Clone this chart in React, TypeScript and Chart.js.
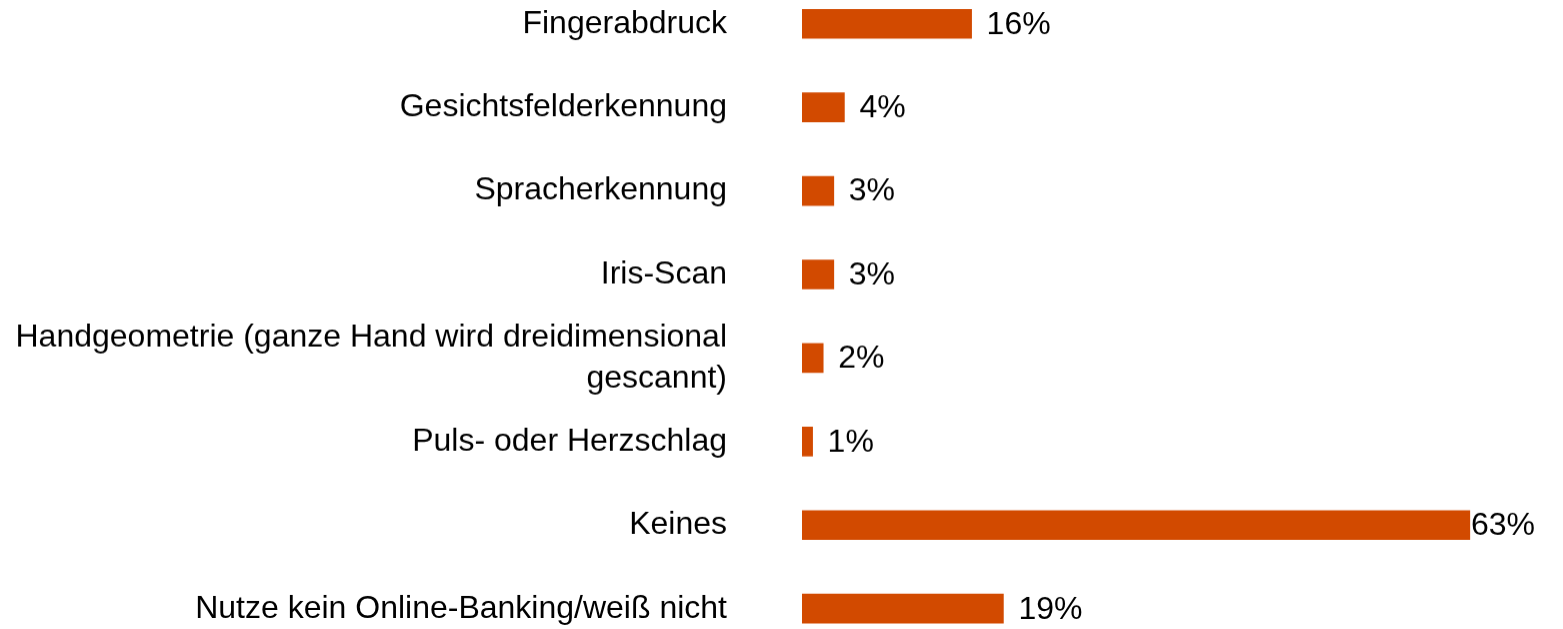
import React, { useEffect, useRef } from "react";
import { Chart, registerables } from "chart.js";

Chart.register(...registerables);

const categories: (string | string[])[] = [
  "Fingerabdruck",
  "Gesichtsfelderkennung",
  "Spracherkennung",
  "Iris-Scan",
  ["Handgeometrie (ganze Hand wird dreidimensional", "gescannt)"],
  "Puls- oder Herzschlag",
  "Keines",
  "Nutze kein Online-Banking/weiß nicht",
];
const values: number[] = [16, 4, 3, 3, 2, 1, 63, 19];
const valueLabels: string[] = values.map((v) => `${v}%`);

const BAR_COLOR = "#D24A00";
const FONT = "'Liberation Sans', Arial, sans-serif";
const FONT_SIZE = 32;

const valueLabelPlugin = {
  id: "valueLabels",
  afterDatasetsDraw(chart: any) {
    const ctx = chart.ctx;
    const meta = chart.getDatasetMeta(0);
    ctx.save();
    ctx.font = `${FONT_SIZE}px ${FONT}`;
    ctx.fillStyle = "#000";
    ctx.textBaseline = "middle";
    ctx.textAlign = "left";
    const limit = 1535;
    meta.data.forEach((bar: any, i: number) => {
      const text = valueLabels[i];
      const w = ctx.measureText(text).width;
      const x = Math.min(bar.x + 15, limit - w);
      ctx.fillText(text, x, bar.y + 1);
    });
    ctx.restore();
  },
};

export default function App() {
  const ref = useRef<HTMLCanvasElement>(null);
  useEffect(() => {
    if (!ref.current) return;
    const chart = new Chart(ref.current, {
      type: "bar",
      data: {
        labels: categories,
        datasets: [
          {
            data: values,
            backgroundColor: BAR_COLOR,
            borderWidth: 0,
            barThickness: 29,
          },
        ],
      },
      options: {
        indexAxis: "y",
        animation: false,
        responsive: true,
        maintainAspectRatio: false,
        devicePixelRatio: 1,
        layout: { padding: { left: 0, right: 19, top: 0, bottom: 0 } },
        plugins: {
          legend: { display: false },
          tooltip: { enabled: false },
          title: { display: false },
        },
        scales: {
          x: {
            display: false,
            min: 0,
            max: 70,
          },
          y: {
            grid: { display: false, drawTicks: false },
            border: { display: false },
            ticks: {
              autoSkip: false,
              padding: 75,
              color: "#000",
              font: { family: FONT, size: FONT_SIZE, lineHeight: 1.28 },
            },
            afterFit: (scale: any) => {
              scale.width = 802;
              scale.paddingTop = 0;
              scale.paddingBottom = 0;
            },
          },
        },
      },
      plugins: [valueLabelPlugin],
    });
    return () => chart.destroy();
  }, []);
  return (
    <div style={{ position: "fixed", inset: 0, overflow: "hidden", background: "#fff" }}>
      <div style={{ position: "absolute", left: 0, top: -17.7, width: 1563, height: 667.4 }}>
        <canvas ref={ref} />
      </div>
    </div>
  );
}
